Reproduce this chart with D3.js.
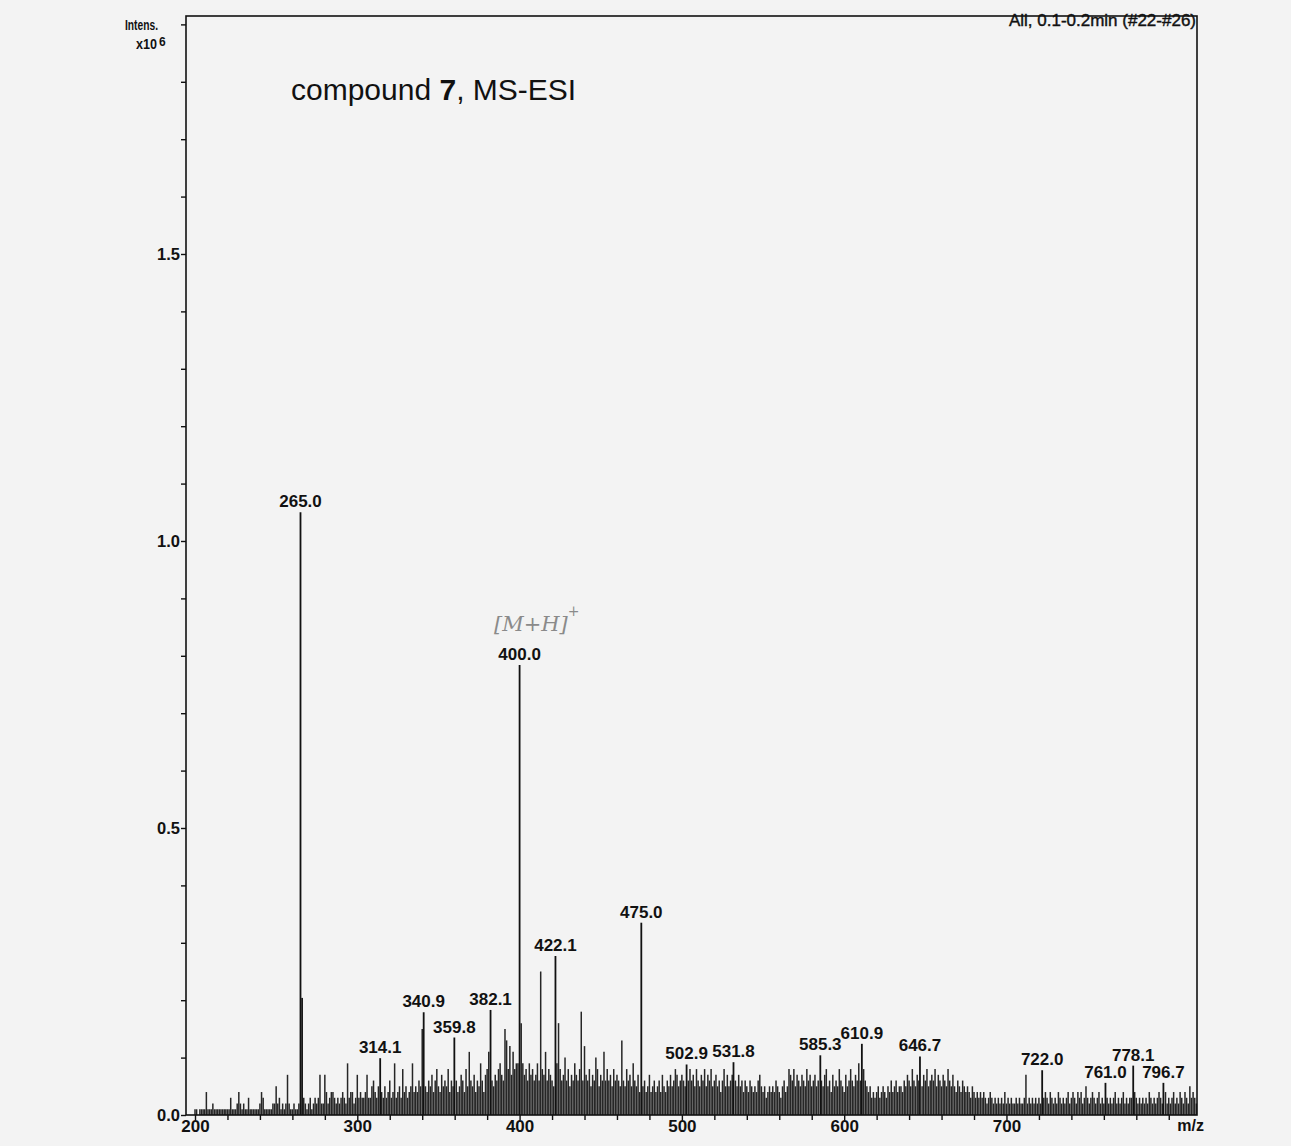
<!DOCTYPE html>
<html>
<head>
<meta charset="utf-8">
<script src="https://cdn.jsdelivr.net/npm/d3@7"></script>
<style>
  html, body { margin: 0; padding: 0; background: #f3f3f3; }
  svg { display: block; }
  text { font-family: "Liberation Sans", Arial, sans-serif; fill: #111; }
</style>
</head>
<body>
<svg id="chart" width="1291" height="1146"></svg>
<script>
// ---------------- DATA ----------------
// Axis ranges (m/z and intensity in x10^6)
const mzDomain = [194.45, 817.4];
const intensityDomain = [0, 1.9146];

// Y tick values (x10^6) and labelled ones
const yTickValues = [0.0,0.1,0.2,0.3,0.4,0.5,0.6,0.7,0.8,0.9,1.0,1.1,1.2,1.3,1.4,1.5,1.6,1.7,1.8,1.9];
const yTickLabels = ["0.0","0.5","1.0","1.5"];
// X tick values (m/z) and labelled ones
const xTickValues = [200,220,240,260,280,300,320,340,360,380,400,420,440,460,480,500,520,540,560,580,600,620,640,660,680,700,720,740,760,780,800];
const xTickLabels = ["200","300","400","500","600","700"];

// Labelled peaks
const peakMz        = [265.0, 400.0, 475.0, 422.1, 382.1, 340.9, 359.8, 314.1, 502.9, 531.8, 585.3, 610.9, 646.7, 722.0, 761.0, 778.1, 796.7];
const peakIntensity = [1.050, 0.784, 0.335, 0.277, 0.183, 0.179, 0.135, 0.099, 0.088, 0.092, 0.104, 0.124, 0.102, 0.078, 0.056, 0.086, 0.056];

// Strong unlabelled peak next to the base peak
const extraPeakMz        = [266.0];
const extraPeakIntensity = [0.204];

// Background "grass": one stick per nominal m/z starting at 195, intensity in units of 10^4 counts
const grassStartMz = 195;
const grassIntensityE4 = [
  0,0,0,0,0,1,1,0,1,1,   // 195
  1,1,4,1,1,1,2,1,1,1,   // 205
  1,1,1,1,1,1,1,3,1,1,   // 215
  1,2,4,2,1,2,1,1,3,1,   // 225
  1,1,1,1,1,2,4,3,1,1,   // 235
  1,1,1,2,2,5,2,3,1,2,   // 245
  1,2,7,2,1,1,2,1,1,2,   // 255
  0,0,3,2,1,2,3,1,2,3,   // 265
  2,3,7,2,2,7,4,2,3,4,   // 275
  4,3,2,3,2,3,4,3,2,9,   // 285
  3,4,4,2,3,7,3,4,3,3,   // 295
  4,7,3,3,5,6,4,3,5,0,   // 305
  4,3,5,3,4,6,3,4,9,3,   // 315
  4,5,3,8,4,5,3,4,5,9,   // 325
  4,5,4,6,5,15,0,5,4,6,  // 335
  5,7,4,6,8,5,4,7,5,6,   // 345
  5,8,4,6,5,0,6,4,5,7,   // 355
  6,4,8,5,11,6,5,7,4,6,  // 365
  5,9,6,4,7,8,11,0,6,5,  // 375
  7,6,8,9,7,6,15,13,8,12,// 385
  7,11,8,9,9,0,16,9,7,8, // 395
  6,9,7,8,6,7,9,6,25,8,  // 405
  7,11,6,8,7,6,5,0,9,16, // 415
  8,6,7,10,6,8,5,7,6,9,  // 425
  7,6,8,18,6,12,7,6,8,5, // 435
  7,6,10,8,5,7,6,11,6,8, // 445
  6,7,5,8,6,7,6,5,13,6,  // 455
  5,8,6,7,5,9,6,5,7,4,   // 465
  0,5,6,4,5,7,4,5,6,4,   // 475
  5,6,4,7,5,4,6,5,7,5,   // 485
  6,8,7,5,6,7,6,5,0,6,   // 495
  8,6,7,5,8,6,5,7,6,8,   // 505
  5,7,6,8,5,6,7,5,6,4,   // 515
  6,8,5,7,5,6,7,0,6,5,   // 525
  7,5,6,4,6,5,4,6,5,4,   // 535
  5,4,6,7,5,4,5,3,4,5,   // 545
  4,5,4,6,5,4,3,5,6,4,   // 555
  5,8,7,6,8,5,7,6,5,7,   // 565
  6,5,8,6,7,5,6,7,5,6,   // 575
  0,6,5,7,8,5,6,4,7,5,   // 585
  6,5,8,6,5,4,7,5,6,8,   // 595
  6,5,7,6,9,6,0,8,6,5,   // 605
  4,5,3,4,3,4,5,3,4,5,   // 615
  4,3,5,4,6,4,5,6,4,5,   // 625
  5,4,6,5,7,6,5,8,6,5,   // 635
  7,6,0,5,7,6,8,5,6,7,   // 645
  6,8,5,7,6,5,7,6,5,8,   // 655
  6,5,7,5,4,6,5,4,6,5,   // 665
  4,5,4,3,5,4,3,4,3,4,   // 675
  3,4,3,2,3,4,3,2,3,2,   // 685
  3,2,3,2,4,2,3,2,3,2,   // 695
  2,3,2,3,2,2,3,7,2,3,   // 705
  2,3,2,3,2,3,2,0,3,4,   // 715
  3,2,4,3,2,3,2,4,3,2,   // 725
  3,2,3,4,2,3,4,3,2,4,   // 735
  3,4,2,3,5,3,2,3,4,3,   // 745
  2,3,4,2,3,2,0,3,2,3,   // 755
  2,3,4,2,3,2,3,4,2,3,   // 765
  2,3,3,0,4,3,2,3,2,3,   // 775
  2,3,2,4,3,2,3,2,3,4,   // 785
  3,2,0,4,2,3,2,3,4,2,   // 795
  3,2,4,3,2,4,3,2,5,3,   // 805
  4,3,2                  // 815
];

// ---------------- CHART ----------------
const svg = d3.select("#chart");
const plot = { left: 186, top: 16, right: 1197, bottom: 1115 };

const x = d3.scaleLinear().domain(mzDomain).range([plot.left, plot.right]);
const y = d3.scaleLinear().domain(intensityDomain).range([plot.bottom, plot.top]);

// Grass sticks
const grass = grassIntensityE4.map((v, i) => ({ mz: grassStartMz + i, v: v / 100 }))
  .filter(d => d.mz >= mzDomain[0] && d.mz <= mzDomain[1]);

const g = svg.append("g");

g.selectAll("line.grass").data(grass).enter().append("line")
  .attr("class", "grass")
  .attr("x1", d => x(d.mz)).attr("x2", d => x(d.mz))
  .attr("y1", y(0)).attr("y2", d => y(d.v))
  .attr("stroke", "#262626").attr("stroke-width", 1.5);

const extra = extraPeakMz.map((m, i) => ({ mz: m, v: extraPeakIntensity[i] }));
g.selectAll("line.extra").data(extra).enter().append("line")
  .attr("x1", d => x(d.mz)).attr("x2", d => x(d.mz))
  .attr("y1", y(0)).attr("y2", d => y(d.v))
  .attr("stroke", "#1a1a1a").attr("stroke-width", 1.8);

const peaks = peakMz.map((m, i) => ({ mz: m, v: peakIntensity[i] }));
g.selectAll("line.peak").data(peaks).enter().append("line")
  .attr("x1", d => x(d.mz)).attr("x2", d => x(d.mz))
  .attr("y1", y(0)).attr("y2", d => y(d.v))
  .attr("stroke", "#111").attr("stroke-width", 1.8);

g.selectAll("text.plabel").data(peaks).enter().append("text")
  .attr("x", d => x(d.mz)).attr("y", d => y(d.v) - 5)
  .attr("text-anchor", "middle")
  .style("font-size", "17px").style("font-weight", "bold")
  .text(d => d.mz.toFixed(1));

// Frame
svg.append("rect")
  .attr("x", plot.left).attr("y", plot.top)
  .attr("width", plot.right - plot.left).attr("height", plot.bottom - plot.top)
  .attr("fill", "none").attr("stroke", "#111").attr("stroke-width", 1.6);

// Y axis
const yAxis = d3.axisLeft(y).tickValues(yTickValues).tickSize(5).tickPadding(1)
  .tickFormat(d => { const s = d3.format(".1f")(d); return yTickLabels.includes(s) ? s : ""; });
const ya = svg.append("g").attr("transform", `translate(${plot.left},0)`).call(yAxis);
ya.select(".domain").remove();
ya.selectAll("line").attr("stroke", "#111").attr("stroke-width", 1.4);
ya.selectAll("text").style("font-size", "16.5px").style("font-weight", "bold")
  .style("font-family", "'Liberation Sans', Arial, sans-serif").attr("fill", "#111");

// X axis
const xAxis = d3.axisBottom(x).tickValues(xTickValues).tickSize(5).tickPadding(0)
  .tickFormat(d => { const s = String(d); return xTickLabels.includes(s) ? s : ""; });
const xa = svg.append("g").attr("transform", `translate(0,${plot.bottom})`).call(xAxis);
xa.select(".domain").remove();
xa.selectAll("line").attr("stroke", "#111").attr("stroke-width", 1.4);
xa.selectAll("text").style("font-size", "17px").style("font-weight", "bold")
  .style("font-family", "'Liberation Sans', Arial, sans-serif").attr("fill", "#111");

// Axis captions
svg.append("text").attr("x", 1204).attr("y", 1131).attr("text-anchor", "end")
  .style("font-size", "16px").style("font-weight", "bold").text("m/z");

svg.append("text").attr("x", 125).attr("y", 30)
  .attr("textLength", 33).attr("lengthAdjust", "spacingAndGlyphs")
  .style("font-size", "15px").style("font-weight", "bold")
  .text("Intens.");
svg.append("text").attr("x", 136).attr("y", 49)
  .attr("textLength", 21).attr("lengthAdjust", "spacingAndGlyphs")
  .style("font-size", "15px").style("font-weight", "bold").text("x10");
svg.append("text").attr("x", 159).attr("y", 46)
  .style("font-size", "12px").style("font-weight", "bold").text("6");

// Top-right caption
svg.append("text").attr("x", 1196).attr("y", 26).attr("text-anchor", "end")
  .style("font-size", "17px").style("stroke", "#111").style("stroke-width", 0.4)
  .text("All, 0.1-0.2min (#22-#26)");

// Title
const title = svg.append("text").attr("x", 291).attr("y", 100).style("font-size", "30px");
title.append("tspan").text("compound ");
title.append("tspan").style("font-weight", "bold").text("7");
title.append("tspan").text(", MS-ESI");

// Hand-written annotation
const ann = svg.append("text").attr("x", 494).attr("y", 631)
  .style("font-size", "21px").style("font-style", "italic").style("fill", "#8a8a8a")
  .style("font-family", "'DejaVu Serif', serif");
ann.append("tspan").text("[M+H]");
ann.append("tspan").attr("dy", -15).style("font-size", "14px").text("+");
</script>
</body>
</html>
